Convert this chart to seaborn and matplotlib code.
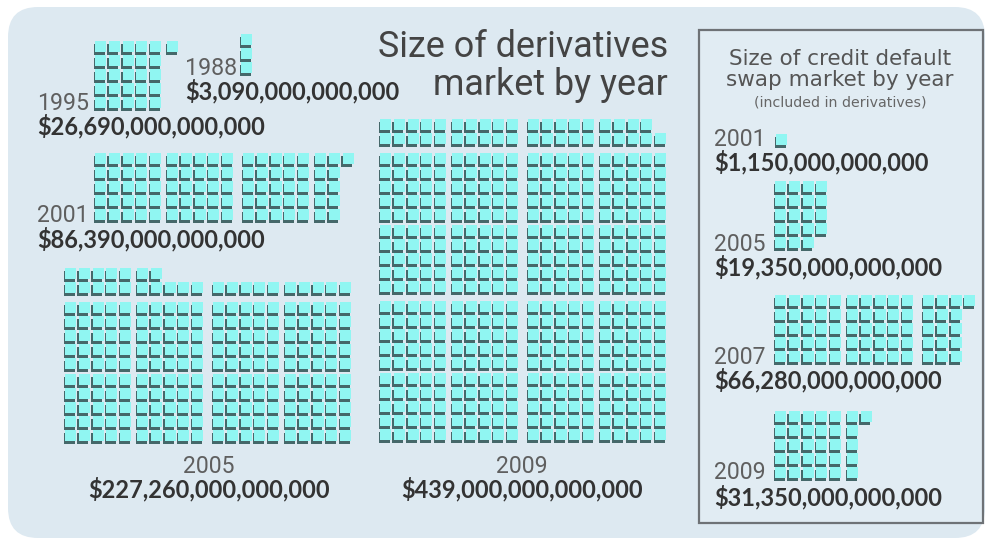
import matplotlib
matplotlib.use("Agg")
import matplotlib.pyplot as plt
import seaborn as sns
import pandas as pd
from matplotlib.patches import FancyBboxPatch, Rectangle

# ---------------- data ----------------
UNIT = 1e12  # one square = $1 trillion
deriv_years = ["1988", "1995", "2001", "2005", "2009"]
deriv_values = [3.09e12, 26.69e12, 86.39e12, 227.26e12, 439.0e12]
cds_years = ["2001", "2005", "2007", "2009"]
cds_values = [1.15e12, 19.35e12, 66.28e12, 31.35e12]
title_main = ["Size of derivatives", "market by year"]
title_cds = ["Size of credit default", "swap market by year"]
subtitle_cds = "(included in derivatives)"

# ---------------- layout (pixels) ----------------
PITCH = 13.8
SMALL_GAP = 3.0
BIG_GAP = 4.0
SQ = 11.0
deriv_layout = {
    "1988": dict(grid=(239, 75), year=(185, 75, "left"), amt=(185, 99, "left")),
    "1995": dict(grid=(93, 110), year=(37, 110, "left"), amt=(37, 134, "left")),
    "2001": dict(grid=(93, 222), year=(37, 222, "left"), amt=(37, 247, "left")),
    "2005": dict(grid=(63, 443), year=(209, 473, "center"), amt=(209, 497, "center")),
    "2009": dict(grid=(378, 442), year=(522, 473, "center"), amt=(522, 497, "center")),
}
cds_layout = {
    "2001": dict(grid=(774, 147), year=(714, 146, "left"), amt=(714, 170, "left")),
    "2005": dict(grid=(773, 250), year=(714, 251, "left"), amt=(714, 275, "left")),
    "2007": dict(grid=(773, 364), year=(714, 364, "left"), amt=(714, 388, "left")),
    "2009": dict(grid=(773, 480), year=(714, 479, "left"), amt=(714, 505, "left")),
}


def offset(i):
    return i * PITCH + (i // 5) * SMALL_GAP + (i // 10) * BIG_GAP


def cell_positions(n):
    cells = []
    if n < 100:
        rows = min(n, 5)
        for i in range(n):
            col = i // rows
            row = rows - 1 - (i % rows)
            cells.append((col, row))
    else:
        h = n // 100
        for k in range(h):
            for c in range(10):
                for r in range(10):
                    cells.append(((k % 2) * 10 + c, (k // 2) * 10 + r))
        base = ((h + 1) // 2) * 10
        for i in range(n - 100 * h):
            cells.append((i % 20, base + i // 20))
    return cells


recs = []
for years, values, layout, grp in [
    (deriv_years, deriv_values, deriv_layout, "d"),
    (cds_years, cds_values, cds_layout, "c"),
]:
    for y, v in zip(years, values):
        n = int(v // UNIT)
        gx, gy = layout[y]["grid"]
        for col, row in cell_positions(n):
            x0 = gx + offset(col)
            y0 = gy - offset(row)
            recs.append(dict(group=grp + y, sx=x0 + 5.5, sy=y0 - 5.5,
                             cx=x0 + 7.0, cy=y0 - 8.5))
df = pd.DataFrame(recs)

# ---------------- figure ----------------
sns.set_theme(style="white")
plt.rcParams["font.family"] = ["DejaVu Sans"]
fig = plt.figure(figsize=(9.85, 5.41), dpi=100)
fig.patch.set_facecolor("white")
ax = fig.add_axes([0, 0, 1, 1])
ax.set_axis_off()

bg = FancyBboxPatch((8, 7), 977, 531, boxstyle="round,pad=0,rounding_size=30",
                    facecolor="#dde9f1", edgecolor="none", zorder=0)
ax.add_patch(bg)
box = Rectangle((699, 30), 284, 493, facecolor="#e1ecf3", edgecolor="#6e7276",
                linewidth=1.6, zorder=1)
ax.add_patch(box)

msize = (SQ * 0.72) ** 2
sns.scatterplot(data=df, x="sx", y="sy", marker="s", s=msize, color="#45686a",
                linewidth=0, ax=ax, legend=False, zorder=3)
sns.scatterplot(data=df, x="cx", y="cy", marker="s", s=msize, color="#90f6f2",
                linewidth=0, ax=ax, legend=False, zorder=4)

ax.set_xlim(0, 985)
ax.set_ylim(541, 0)

NARROW = ["Roboto", "DejaVu Sans"]
BOLD = ["Lato", "DejaVu Sans"]
fit = []  # (text, target width px)

for years, values, layout in [(deriv_years, deriv_values, deriv_layout),
                              (cds_years, cds_values, cds_layout)]:
    for y, v in zip(years, values):
        lx, ly, ha = layout[y]["year"]
        t = ax.text(lx, ly, y, ha=ha, va="baseline", fontsize=17, family=NARROW,
                    color="#5f5f5f", zorder=5)
        fit.append((t, 52))
        ax2x, ax2y, ha2 = layout[y]["amt"]
        ax.text(ax2x, ax2y, f"${v:,.0f}", ha=ha2, va="baseline", fontsize=17,
                family=BOLD, fontweight="bold", color="#333333", zorder=5)

t1 = ax.text(668, 57, title_main[0], ha="right", va="baseline", fontsize=28,
             family=NARROW, color="#444444", zorder=5)
t2 = ax.text(668, 95, title_main[1], ha="right", va="baseline", fontsize=28,
             family=NARROW, color="#444444", zorder=5)
fit.append((t1, 290))
ax.text(840, 65, title_cds[0], ha="center", va="baseline", fontsize=15.5,
        family=["DejaVu Sans"], color="#555555", zorder=5)
ax.text(840, 86, title_cds[1], ha="center", va="baseline", fontsize=15.5,
        family=["DejaVu Sans"], color="#555555", zorder=5)
t3 = ax.text(840, 106, subtitle_cds, ha="center", va="baseline", fontsize=9,
             family=["DejaVu Sans"], color="#666666", zorder=5)
fit.append((t3, 172))

renderer = fig.canvas.get_renderer()
for t, w in fit:
    cur = t.get_window_extent(renderer).width
    t.set_fontsize(t.get_fontsize() * w / cur)
t2.set_fontsize(t1.get_fontsize())

fig.savefig("out.png", dpi=100, facecolor="white")
